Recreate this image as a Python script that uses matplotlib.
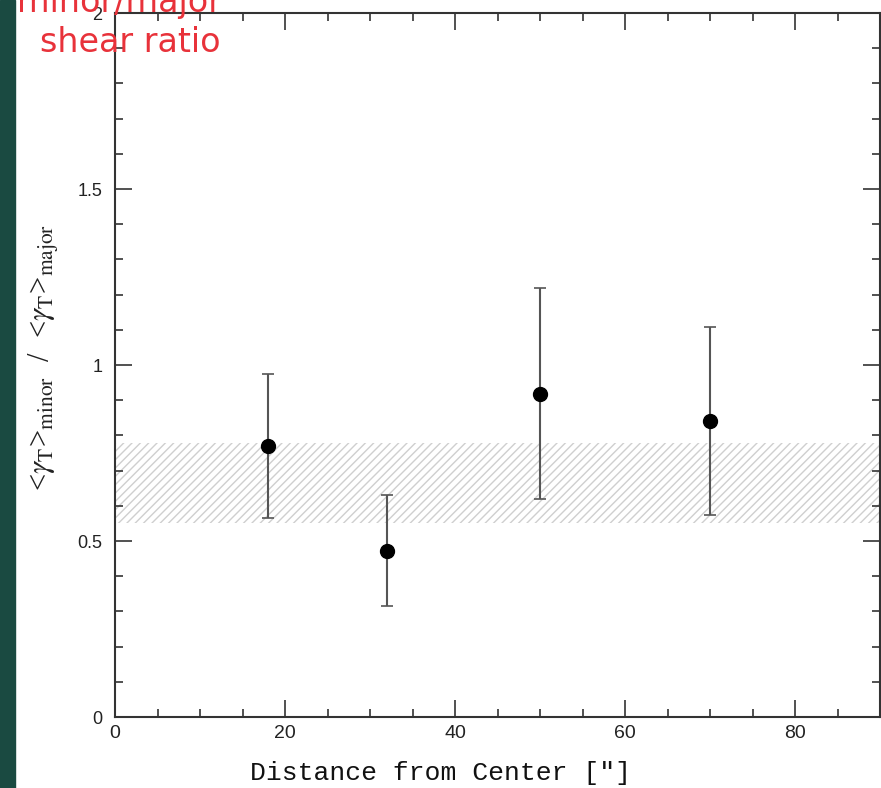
import matplotlib.pyplot as plt
from matplotlib.ticker import MultipleLocator

# distance from center (arcsec) and minor/major tangential shear ratio
distance = [18, 32, 50, 70]
ratio = [0.77, 0.473, 0.918, 0.84]
ratio_err = [0.205, 0.158, 0.30, 0.267]

# hatched band (mean +/- 1 sigma)
band_lo = 0.551
band_hi = 0.778

plt.rcParams['mathtext.fontset'] = 'stix'

fig = plt.figure(figsize=(8.81, 7.88), dpi=100)

# dark strip at the left edge of the slide
fig.patches.append(plt.Rectangle((0, 0), 15 / 881, 1, transform=fig.transFigure,
                                 color='#1a4a41', zorder=0))

ax = fig.add_axes([115 / 881, 71 / 788, 765 / 881, 704 / 788])

ax.axhspan(band_lo, band_hi, facecolor='none', edgecolor='#cfcfcf',
           hatch='////', linewidth=0, zorder=1)

ax.errorbar(distance, ratio, yerr=ratio_err, fmt='o', color='black',
            markersize=10, ecolor='#555555', elinewidth=1.5,
            capsize=4, capthick=1.2, zorder=3)

ax.set_xlim(0, 90)
ax.set_ylim(0, 2)
ax.xaxis.set_major_locator(MultipleLocator(20))
ax.xaxis.set_minor_locator(MultipleLocator(5))
ax.yaxis.set_minor_locator(MultipleLocator(0.1))
ax.set_yticks([0, 0.5, 1, 1.5, 2])
ax.set_yticklabels(['0', '0.5', '1', '1.5', '2'])

ax.tick_params(which='both', direction='in', top=True, right=True,
               colors='#333333', width=1.2)
ax.tick_params(which='major', length=12)
ax.tick_params(which='minor', length=6)
ax.tick_params(axis='x', pad=6, labelsize=14)
ax.tick_params(axis='y', pad=9, labelsize=13)
for lab in ax.get_xticklabels() + ax.get_yticklabels():
    lab.set_family('Liberation Sans')
    lab.set_color('#222222')
for sp in ax.spines.values():
    sp.set_linewidth(1.5)
    sp.set_color('#333333')

ax.set_xlabel('Distance from Center [\u2033]', family=['Liberation Mono', 'DejaVu Sans Mono'],
              fontsize=19, color='#111111')
ax.xaxis.set_label_coords(0.425, -0.062)
ax.set_ylabel(r'<$\gamma_{\rm T}$>$_{\rm minor}$  /  <$\gamma_{\rm T}$>$_{\rm major}$',
              family='Liberation Serif', fontsize=22, color='#222222')
ax.yaxis.set_label_coords(-0.07, 0.51)

# red annotation, partly cut off at the top
fig.text(119 / 881, 1 - 12 / 788, 'minor/major', color='#e8323a', fontsize=24,
         ha='center', va='baseline')
fig.text(130 / 881, 1 - 52 / 788, 'shear ratio', color='#e8323a', fontsize=24,
         ha='center', va='baseline')

fig.savefig('out.png', dpi=100)
